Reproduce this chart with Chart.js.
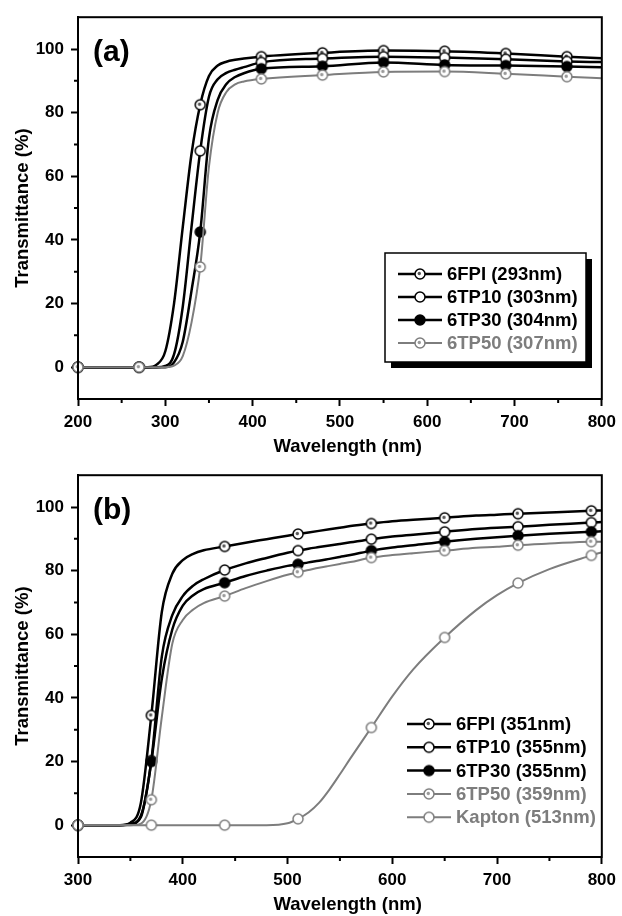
<!DOCTYPE html>
<html>
<head>
<meta charset="utf-8">
<script src="https://cdn.jsdelivr.net/npm/chart.js@4.4.1/dist/chart.umd.min.js"></script>
<style>
  body { margin: 0; background: #fff; }
  canvas { display: block; }
</style>
</head>
<body>
<canvas id="panelA" width="622" height="458"></canvas>
<canvas id="panelB" width="622" height="458"></canvas>
<script>
// (a) wavelength grid and transmittance (%)
const wlA = [200, 270, 280, 290, 300, 310, 320, 330, 340, 350, 360, 370, 380, 390, 410, 480, 550, 620, 690, 760, 800];
const fpiA = [0, 0, 0, 0.8, 5, 20, 44, 67, 82.5, 91.5, 94.8, 96, 96.6, 97, 97.6, 98.8, 99.5, 99.3, 98.6, 97.6, 97.1];
const tp10A = [0, 0, 0, 0, 0.4, 4, 19, 44, 68, 85, 90.5, 92.5, 93.5, 94.3, 95.8, 97, 97.6, 97.3, 96.8, 96.1, 95.9];
const tp30A = [0, 0, 0, 0, 0, 1.5, 8, 24, 42.5, 72, 84, 89, 91.2, 92.4, 93.8, 94.6, 95.8, 95, 94.8, 94.5, 94.3];
const tp50A = [0, 0, 0, 0, 0, 0.5, 3.5, 14, 31.5, 63, 80, 86.5, 88.9, 89.8, 90.6, 91.8, 92.8, 92.9, 92.2, 91.3, 90.8];
const markA = [200, 270, 340, 410, 480, 550, 620, 690, 760];
const namesA = ['6FPI (293nm)', '6TP10 (303nm)', '6TP30 (304nm)', '6TP50 (307nm)'];

// (b)
const wlB = [300, 340, 350, 360, 370, 380, 390, 400, 410, 420, 440, 460, 480, 500, 510, 520, 530, 540, 550, 560, 580, 600, 620, 650, 680, 700, 720, 750, 790, 800];
const fpiB = [0, 0, 0.8, 7, 34.5, 67, 79, 83.3, 85.3, 86.4, 87.6, 88.8, 89.9, 91, 91.5, 92, 92.5, 93, 93.5, 94, 94.8, 95.5, 96, 96.6, 97.3, 97.6, 97.9, 98.3, 98.8, 98.9];
const tp10B = [0, 0, 0.4, 3, 20.3, 53, 66, 72, 75.3, 77.3, 80.2, 82.3, 84, 85.6, 86.3, 86.9, 87.4, 87.9, 88.4, 88.9, 89.9, 90.7, 91.3, 92.2, 93.1, 93.5, 93.8, 94.4, 95.1, 95.3];
const tp30B = [0, 0, 0.3, 2.5, 20, 46, 61.5, 69, 72.3, 74.2, 76.2, 78.3, 80, 81.5, 82, 82.6, 83.1, 83.7, 84.3, 84.9, 86.3, 87.3, 88, 89.1, 90, 90.5, 91, 91.6, 92.2, 92.4];
const tp50B = [0, 0, 0, 0.5, 8, 34, 57, 64.5, 67.8, 69.8, 72, 74.5, 76.7, 78.7, 79.5, 80.2, 80.9, 81.5, 82.1, 82.7, 84.1, 84.9, 85.5, 86.3, 87.2, 87.5, 88, 88.5, 89.1, 89.1];
const kaptonB = [0, 0, 0, 0, 0, 0, 0, 0, 0, 0, 0, 0, 0, 0.6, 2, 4, 7, 11.2, 16, 21, 30.7, 40.5, 49, 59, 67.6, 72.3, 76.1, 80.5, 84.8, 85.8];
const markB = [300, 370, 440, 510, 580, 650, 720, 790];
const namesB = ['6FPI (351nm)', '6TP10 (355nm)', '6TP30 (355nm)', '6TP50 (359nm)', 'Kapton (513nm)'];

const yTicks = [0, 20, 40, 60, 80, 100];
const yMinor = [10, 30, 50, 70, 90];
const xTicksA = [200, 300, 400, 500, 600, 700, 800];
const xMinorA = [250, 350, 450, 550, 650, 750];
const xTicksB = [300, 400, 500, 600, 700, 800];
const xMinorB = [350, 450, 550, 650, 750];

const BLACK = '#000';
const GRAY = '#7d7d7d';
const FONT = '"Liberation Sans", Arial, sans-serif';

// marker images (circle, optional small dot inside)
function marker(ring, fill, dot) {
  const c = document.createElement('canvas');
  c.width = c.height = 14;
  const g = c.getContext('2d');
  g.beginPath();
  g.arc(7, 7, 5, 0, Math.PI * 2);
  g.fillStyle = fill;
  g.fill();
  g.lineWidth = 1.5;
  g.strokeStyle = ring;
  g.stroke();
  if (dot) {
    g.beginPath();
    g.arc(6.3, 6.5, 1.7, 0, Math.PI * 2);
    g.fillStyle = dot;
    g.fill();
  }
  return c;
}
const mkFpi = marker(BLACK, '#fff', '#555');
const mkTp10 = marker(BLACK, '#fff');
const mkTp30 = marker(BLACK, BLACK);
const mkTp50 = marker(GRAY, '#fff', '#999');
const mkKapton = marker(GRAY, '#fff');

function series(label, wl, vals, marks, color, width, style, order) {
  return {
    label,
    data: wl.map((w, i) => ({ x: w, y: vals[i] })),
    borderColor: color,
    borderWidth: width,
    cubicInterpolationMode: 'monotone',
    pointStyle: style,
    pointRadius: c => marks.includes(c.raw.x) ? 5 : 0,
    pointHoverRadius: 0,
    order,
    clip: 10
  };
}

const framePlugin = {
  id: 'frame',
  afterDraw(chart, args, opts) {
    const { ctx, chartArea: a, scales: { x, y } } = chart;
    ctx.save();
    ctx.strokeStyle = BLACK;
    ctx.lineWidth = 2;
    ctx.strokeRect(a.left, a.top, a.right - a.left, a.bottom - a.top);

    // minor ticks
    ctx.beginPath();
    opts.xMinor.forEach(v => {
      const px = x.getPixelForValue(v);
      ctx.moveTo(px, a.bottom);
      ctx.lineTo(px, a.bottom + 4);
    });
    opts.yMinor.forEach(v => {
      const py = y.getPixelForValue(v);
      ctx.moveTo(a.left, py);
      ctx.lineTo(a.left - 4, py);
    });
    ctx.stroke();

    // panel tag
    ctx.fillStyle = BLACK;
    ctx.font = 'bold 30px ' + FONT;
    ctx.textBaseline = 'middle';
    ctx.fillText(opts.tag, a.left + 15, a.top + 36);

    // legend
    const lg = opts.legend;
    if (lg.box) {
      const b = lg.box;
      ctx.fillStyle = BLACK;
      ctx.fillRect(b.x + 6, b.y + 6, b.w, b.h);
      ctx.fillStyle = '#fff';
      ctx.fillRect(b.x, b.y, b.w, b.h);
      ctx.lineWidth = 1.5;
      ctx.strokeRect(b.x, b.y, b.w, b.h);
    }
    ctx.font = 'bold 18.5px ' + FONT;
    ctx.textBaseline = 'middle';
    chart.data.datasets.forEach((ds, i) => {
      const yy = lg.y + i * lg.dy;
      ctx.strokeStyle = ds.borderColor;
      ctx.lineWidth = ds.borderWidth;
      ctx.beginPath();
      ctx.moveTo(lg.x, yy);
      ctx.lineTo(lg.x + 44, yy);
      ctx.stroke();
      ctx.drawImage(ds.pointStyle, lg.x + 22 - 7, yy - 7);
      ctx.fillStyle = ds.borderColor;
      ctx.fillText(ds.label, lg.x + 49, yy + 1);
    });
    ctx.restore();
  }
};

function makeOptions(xMin, xMax, xTicks, xMinor, tag, legend) {
  const tickFont = { family: FONT, size: 17, weight: 'bold' };
  const titleFont = { family: FONT, size: 18.5, weight: 'bold' };
  return {
    responsive: false,
    animation: false,
    events: [],
    layout: { padding: { left: 0, top: 14, right: 19, bottom: 0 } },
    plugins: {
      legend: { display: false },
      tooltip: { enabled: false },
      frame: { tag, xMinor, yMinor, legend }
    },
    scales: {
      x: {
        type: 'linear',
        min: xMin,
        max: xMax,
        afterBuildTicks: s => { s.ticks = xTicks.map(v => ({ value: v })); },
        afterFit: s => { s.height = 59; },
        grid: { drawOnChartArea: false, tickLength: 7, tickWidth: 2, tickColor: BLACK },
        border: { color: BLACK, width: 2 },
        ticks: { font: tickFont, color: BLACK, padding: 6, maxRotation: 0, autoSkip: false },
        title: { display: true, text: '   Wavelength (nm)', font: titleFont, color: BLACK, padding: 0 }
      },
      y: {
        type: 'linear',
        min: -10,
        max: 110,
        afterBuildTicks: s => { s.ticks = yTicks.map(v => ({ value: v })); },
        afterFit: s => { s.width = 78; },
        grid: { drawOnChartArea: false, tickLength: 7, tickWidth: 2, tickColor: BLACK },
        border: { color: BLACK, width: 2 },
        ticks: { font: tickFont, color: BLACK, padding: 7 },
        title: { display: true, text: 'Transmittance (%)', font: titleFont, color: BLACK, padding: { top: 12, bottom: 0 } }
      }
    }
  };
}

new Chart(document.getElementById('panelA'), {
  type: 'line',
  data: {
    datasets: [
      series(namesA[0], wlA, fpiA, markA, BLACK, 2.5, mkFpi, 4),
      series(namesA[1], wlA, tp10A, markA, BLACK, 2.5, mkTp10, 3),
      series(namesA[2], wlA, tp30A, markA, BLACK, 2.5, mkTp30, 2),
      series(namesA[3], wlA, tp50A, markA, GRAY, 2, mkTp50, 1)
    ]
  },
  options: makeOptions(200, 800, xTicksA, xMinorA, '(a)',
    { x: 398, y: 274, dy: 23, box: { x: 385, y: 253, w: 201, h: 109 } }),
  plugins: [framePlugin]
});

new Chart(document.getElementById('panelB'), {
  type: 'line',
  data: {
    datasets: [
      series(namesB[0], wlB, fpiB, markB, BLACK, 2.5, mkFpi, 4),
      series(namesB[1], wlB, tp10B, markB, BLACK, 2.5, mkTp10, 3),
      series(namesB[2], wlB, tp30B, markB, BLACK, 2.5, mkTp30, 2),
      series(namesB[3], wlB, tp50B, markB, GRAY, 2, mkTp50, 1),
      series(namesB[4], wlB, kaptonB, markB, GRAY, 2, mkKapton, 0)
    ]
  },
  options: makeOptions(300, 800, xTicksB, xMinorB, '(b)',
    { x: 407, y: 266, dy: 23.3, box: null }),
  plugins: [framePlugin]
});
</script>
</body>
</html>
